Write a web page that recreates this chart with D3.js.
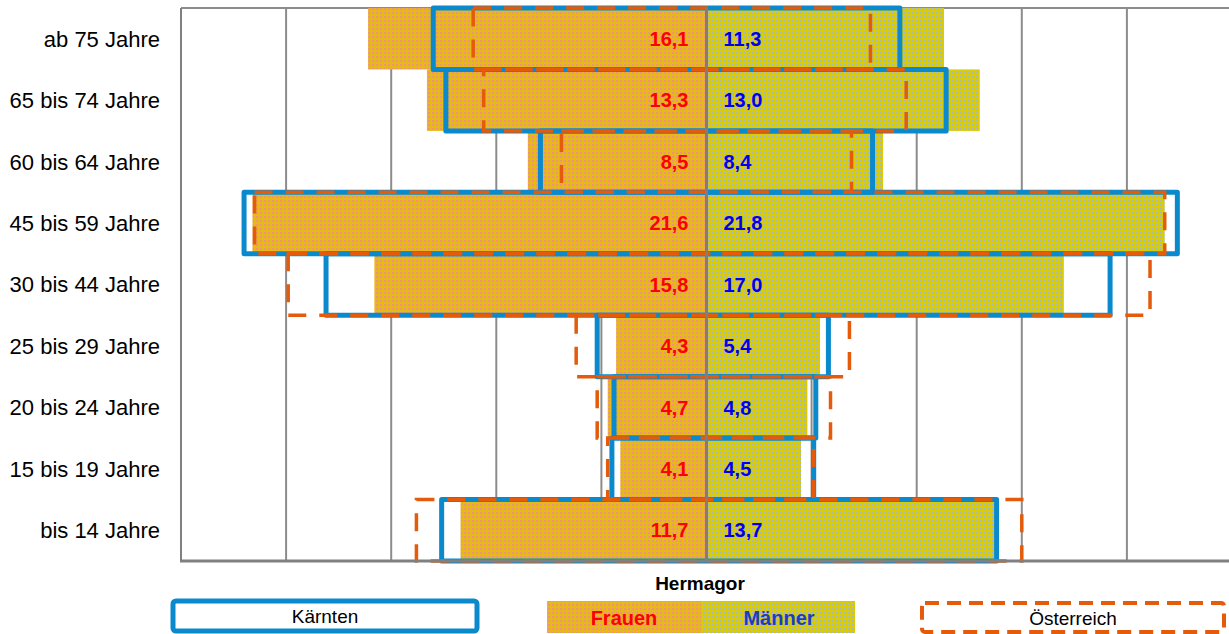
<!DOCTYPE html>
<html><head><meta charset="utf-8">
<script src="https://cdn.jsdelivr.net/npm/d3@7"></script>
<style>body{margin:0;background:#fff}svg{display:block;font-family:"Liberation Sans",Arial,sans-serif}</style>
</head><body><svg id="c" width="1229" height="634"></svg>
<script>
const categories = ["ab 75 Jahre","65 bis 74 Jahre","60 bis 64 Jahre","45 bis 59 Jahre","30 bis 44 Jahre","25 bis 29 Jahre","20 bis 24 Jahre","15 bis 19 Jahre","bis 14 Jahre"];
const hermagorFrauen = [16.1,13.3,8.5,21.6,15.8,4.3,4.7,4.1,11.7];
const hermagorMaenner = [11.3,13.0,8.4,21.8,17.0,5.4,4.8,4.5,13.7];
const kaerntenFrauen = [13.0,12.4,7.9,22.0,18.1,5.2,4.4,4.5,12.6];
const kaerntenMaenner = [9.2,11.4,7.9,22.4,19.2,5.8,5.2,5.1,13.8];
const oesterreichFrauen = [11.1,10.6,6.9,21.5,19.9,6.2,5.2,4.7,13.8];
const oesterreichMaenner = [7.8,9.5,6.9,21.8,21.1,6.8,5.9,5.1,15.0];
const gridTicks = [-25,-20,-15,-10,-5,0,5,10,15,20,25];
const title = "Hermagor";

const svg = d3.select("#c");
const defs = svg.append("defs");
function pat(id, bg, fg, cells){
  const p = defs.append("pattern").attr("id",id).attr("width",4).attr("height",4).attr("patternUnits","userSpaceOnUse");
  p.append("rect").attr("width",4).attr("height",4).attr("fill",bg);
  cells.forEach(c=>p.append("rect").attr("x",c[0]).attr("y",c[1]).attr("width",c[2]).attr("height",c[3]).attr("fill",fg));
}
pat("pF","#e6b818","#f0908a",[[0,0,2,2]]);
pat("pM","#d8cc08","#a6b8cc",[[0,0,2,2]]);

const x = d3.scaleLinear().domain([-25,25]).range([181,1232]);
const y = d3.scaleBand().domain(categories).range([8,561]).padding(0);
const fmt = v => v.toFixed(1).replace(".",",");

const plot = svg.append("g");
// gridlines
plot.selectAll("line.g").data(gridTicks).join("line")
  .attr("x1",d=>x(d)).attr("x2",d=>x(d)).attr("y1",8).attr("y2",561)
  .attr("stroke","#8c8c8c").attr("stroke-width",2);
// top border
plot.append("line").attr("x1",181).attr("x2",1229).attr("y1",8).attr("y2",8).attr("stroke","#8c8c8c").attr("stroke-width",2);

const idx = d3.range(categories.length);
// Hermagor fills
plot.selectAll("rect.f").data(idx).join("rect")
  .attr("x",i=>x(-hermagorFrauen[i])).attr("width",i=>x(0)-x(-hermagorFrauen[i]))
  .attr("y",i=>y(categories[i])).attr("height",y.bandwidth()).attr("fill","url(#pF)");
plot.selectAll("rect.m").data(idx).join("rect")
  .attr("x",x(0)).attr("width",i=>x(hermagorMaenner[i])-x(0))
  .attr("y",i=>y(categories[i])).attr("height",y.bandwidth()).attr("fill","url(#pM)");
// Kärnten outlines
plot.selectAll("rect.k").data(idx).join("rect")
  .attr("x",i=>x(-kaerntenFrauen[i])).attr("width",i=>x(kaerntenMaenner[i])-x(-kaerntenFrauen[i]))
  .attr("y",i=>y(categories[i])).attr("height",y.bandwidth())
  .attr("fill","none").attr("stroke","#0a8acd").attr("stroke-width",5).attr("stroke-linejoin","round");
// Österreich outlines
plot.selectAll("rect.o").data(idx).join("rect")
  .attr("x",i=>x(-oesterreichFrauen[i])).attr("width",i=>x(oesterreichMaenner[i])-x(-oesterreichFrauen[i]))
  .attr("y",i=>y(categories[i])).attr("height",y.bandwidth())
  .attr("fill","none").attr("stroke","#e35b0b").attr("stroke-width",3.5).attr("stroke-dasharray","18,13");
// center axis
plot.append("line").attr("x1",x(0)).attr("x2",x(0)).attr("y1",8).attr("y2",561).attr("stroke","#8a7a70").attr("stroke-width",3);
// left axis and bottom axis
plot.append("line").attr("x1",181).attr("x2",181).attr("y1",8).attr("y2",562).attr("stroke","#808080").attr("stroke-width",2);
plot.append("line").attr("x1",180).attr("x2",1229).attr("y1",561).attr("y2",561).attr("stroke","#808080").attr("stroke-width",3);

// value labels
plot.selectAll("text.vf").data(idx).join("text")
  .attr("x",x(0)-18).attr("y",i=>y(categories[i])+y.bandwidth()/2).attr("dy","0.36em")
  .attr("text-anchor","end").attr("fill","#ff0000").attr("font-weight","bold").attr("font-size",20)
  .text(i=>fmt(hermagorFrauen[i]));
plot.selectAll("text.vm").data(idx).join("text")
  .attr("x",x(0)+17).attr("y",i=>y(categories[i])+y.bandwidth()/2).attr("dy","0.36em")
  .attr("text-anchor","start").attr("fill","#0000ee").attr("font-weight","bold").attr("font-size",20)
  .text(i=>fmt(hermagorMaenner[i]));
// category labels
svg.selectAll("text.cat").data(categories).join("text")
  .attr("x",160).attr("y",d=>y(d)+y.bandwidth()/2).attr("dy","0.36em")
  .attr("text-anchor","end").attr("font-size",22).attr("fill","#000").text(d=>d);

// legend
svg.append("text").attr("x",700).attr("y",590).attr("text-anchor","middle").attr("font-weight","bold").attr("font-size",19).text(title);
svg.append("rect").attr("x",173).attr("y",601).attr("width",304).attr("height",30).attr("rx",3)
  .attr("fill","#fff").attr("stroke","#0a8acd").attr("stroke-width",5);
svg.append("text").attr("x",325).attr("y",623).attr("text-anchor","middle").attr("font-size",19).text("Kärnten");
svg.append("rect").attr("x",547).attr("y",601).attr("width",154).attr("height",32).attr("fill","url(#pF)");
svg.append("rect").attr("x",701).attr("y",601).attr("width",154).attr("height",32).attr("fill","url(#pM)");
svg.append("text").attr("x",624).attr("y",625).attr("text-anchor","middle").attr("font-weight","bold").attr("font-size",20).attr("fill","#ff0000").text("Frauen");
svg.append("text").attr("x",779).attr("y",625).attr("text-anchor","middle").attr("font-weight","bold").attr("font-size",20).attr("fill","#1a3ccc").text("Männer");
svg.append("rect").attr("x",922).attr("y",603).attr("width",302).attr("height",29).attr("rx",3)
  .attr("fill","#fff").attr("stroke","#e35b0b").attr("stroke-width",4).attr("stroke-dasharray","14,8");
svg.append("text").attr("x",1073).attr("y",625).attr("text-anchor","middle").attr("font-size",19).text("Österreich");
</script></body></html>
